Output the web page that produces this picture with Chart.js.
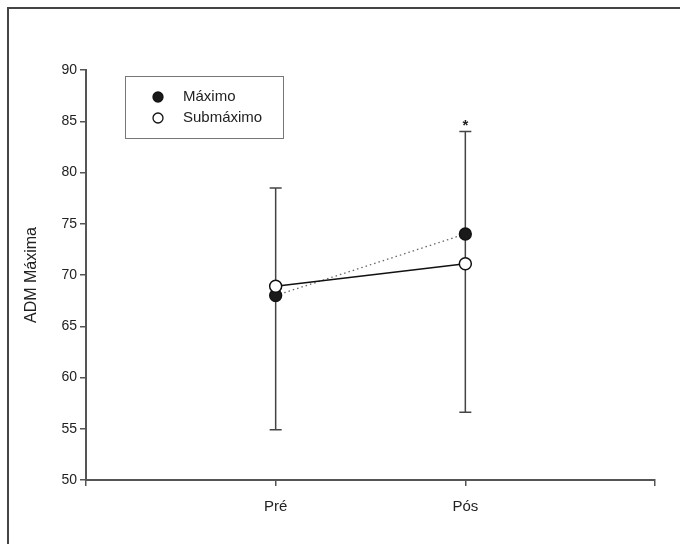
<!DOCTYPE html>
<html>
<head>
<meta charset="utf-8">
<script src="https://cdn.jsdelivr.net/npm/chart.js@4"></script>
<style>
  html, body { margin: 0; padding: 0; background: #fff; }
  #wrap { width: 680px; height: 544px; }
</style>
</head>
<body>
<div id="wrap"><canvas id="chart" width="680" height="544"></canvas></div>
<script>
// categories (blank ends give the empty slots left and right)
const categories = ["", "Pré", "Pós", ""];
const maximo = [null, 68.0, 74.0, null];
const submaximo = [null, 68.9, 71.1, null];
// error bars: Máximo drawn upward, Submáximo downward
const maximoUpper = [null, 78.5, 84.0, null];
const submaximoLower = [null, 54.9, 56.6, null];
const signif = ["", "", "*", ""];
const yTicks = [50, 55, 60, 65, 70, 75, 80, 85, 90];

const font = "'Liberation Sans', Arial, sans-serif";
const ctx = document.getElementById("chart");

const frame = {
  id: "frame",
  beforeDraw(chart) {
    const c = chart.ctx;
    c.save();
    c.fillStyle = "#fff";
    c.fillRect(0, 0, chart.width, chart.height);
    c.strokeStyle = "#444";
    c.lineWidth = 2;
    c.beginPath();
    c.moveTo(8, chart.height);
    c.lineTo(8, 8);
    c.lineTo(chart.width, 8);
    c.stroke();
    c.restore();
  }
};

const errorBars = {
  id: "errorBars",
  beforeDatasetsDraw(chart) {
    const c = chart.ctx;
    const x = chart.scales.x, y = chart.scales.y;
    c.save();
    c.strokeStyle = "#444";
    c.lineWidth = 1.5;
    categories.forEach((cat, i) => {
      if (maximoUpper[i] == null) return;
      const px = x.getPixelForValue(i);
      const top = y.getPixelForValue(maximoUpper[i]);
      const bot = y.getPixelForValue(submaximoLower[i]);
      c.beginPath();
      c.moveTo(px, top); c.lineTo(px, bot);
      c.moveTo(px - 6, top); c.lineTo(px + 6, top);
      c.moveTo(px - 6, bot); c.lineTo(px + 6, bot);
      c.stroke();
    });
    c.restore();
  },
  afterDatasetsDraw(chart) {
    const c = chart.ctx;
    const x = chart.scales.x, y = chart.scales.y;
    c.save();
    c.fillStyle = "#222";
    c.font = "bold 15px " + font;
    c.textAlign = "center";
    c.textBaseline = "middle";
    signif.forEach((s, i) => {
      if (!s) return;
      c.fillText(s, x.getPixelForValue(i), y.getPixelForValue(maximoUpper[i]) - 6);
    });
    c.restore();
  }
};

const boxLegend = {
  id: "boxLegend",
  afterDraw(chart) {
    const c = chart.ctx;
    c.save();
    c.strokeStyle = "#777";
    c.lineWidth = 1;
    c.strokeRect(125.5, 76.5, 158, 62);
    c.font = "15px " + font;
    c.textBaseline = "middle";
    chart.data.datasets.forEach((ds, i) => {
      const yy = 97 + i * 21;
      c.beginPath();
      c.arc(158, yy, 5, 0, Math.PI * 2);
      c.fillStyle = ds.pointBackgroundColor;
      c.fill();
      c.strokeStyle = "#111";
      c.lineWidth = 1.3;
      c.stroke();
      c.fillStyle = "#222";
      c.fillText(ds.label, 183, yy);
    });
    c.restore();
  }
};

new Chart(ctx, {
  type: "line",
  data: {
    labels: categories,
    datasets: [
      {
        label: "Máximo",
        data: maximo,
        order: 1,
        borderColor: "#666",
        borderWidth: 1.3,
        borderDash: [1.5, 3],
        pointBackgroundColor: "#1a1a1a",
        pointBorderColor: "#111",
        pointRadius: 6,
        pointBorderWidth: 1.3,
        spanGaps: false
      },
      {
        label: "Submáximo",
        data: submaximo,
        order: 0,
        borderColor: "#111",
        borderWidth: 1.5,
        pointBackgroundColor: "#fff",
        pointBorderColor: "#111",
        pointRadius: 6,
        pointBorderWidth: 1.5,
        spanGaps: false
      }
    ]
  },
  options: {
    responsive: false,
    animation: false,
    layout: { padding: { left: 0, top: 70, right: 25, bottom: 0 } },
    plugins: { legend: { display: false }, tooltip: { enabled: false } },
    scales: {
      x: {
        offset: false,
        grid: { drawOnChartArea: false, tickLength: 6, color: "#555", lineWidth: 1.5 },
        border: { color: "#555", width: 2 },
        ticks: { color: "#222", font: { family: font, size: 15 }, padding: 12, maxRotation: 0 },
        afterFit(s) { s.height = 64; }
      },
      y: {
        min: 50,
        max: 90,
        afterBuildTicks(s) { s.ticks = yTicks.map(v => ({ value: v })); },
        grid: { drawOnChartArea: false, tickLength: 6, color: "#555", lineWidth: 1.5 },
        border: { color: "#555", width: 2 },
        ticks: { color: "#222", font: { family: font, size: 14 }, padding: 3 },
        title: {
          display: true,
          text: "ADM Máxima",
          color: "#222",
          font: { family: font, size: 16 },
          padding: { top: 22, bottom: 0 }
        },
        afterFit(s) { s.width = 86; }
      }
    }
  },
  plugins: [frame, errorBars, boxLegend]
});
</script>
</body>
</html>
